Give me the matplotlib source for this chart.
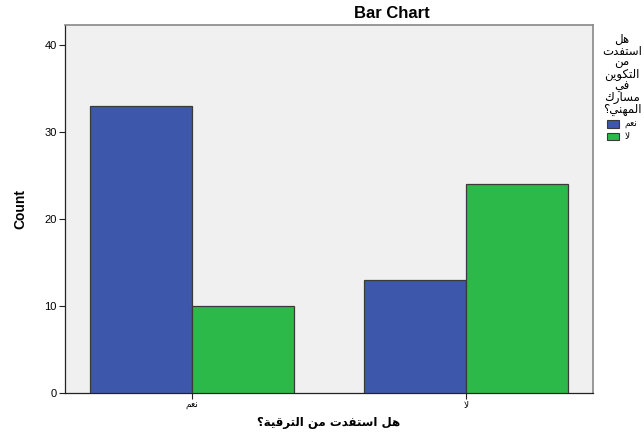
import matplotlib
matplotlib.use("Agg")
import matplotlib.pyplot as plt
import numpy as np
from matplotlib.patches import Patch

# ---------------- data ----------------
categories = ["نعم", "لا"]
series_names = ["نعم", "لا"]
yes_values = [33, 13]
no_values = [10, 24]
title = "Bar Chart"
xlabel = "هل استفدت من الترقية؟"
ylabel = "Count"
legend_title = "هل استفدت من التكوين في مسارك المهني؟"
yticks = [0, 10, 20, 30, 40]

# ---------------- minimal Arabic shaping ----------------
FORMS = {
    'ا': ('\uFE8D', '\uFE8E', None, None),
    'ب': ('\uFE8F', '\uFE90', '\uFE91', '\uFE92'),
    'ت': ('\uFE95', '\uFE96', '\uFE97', '\uFE98'),
    'ة': ('\uFE93', '\uFE94', None, None),
    'د': ('\uFEA9', '\uFEAA', None, None),
    'ر': ('\uFEAD', '\uFEAE', None, None),
    'س': ('\uFEB1', '\uFEB2', '\uFEB3', '\uFEB4'),
    'ع': ('\uFEC9', '\uFECA', '\uFECB', '\uFECC'),
    'ف': ('\uFED1', '\uFED2', '\uFED3', '\uFED4'),
    'ق': ('\uFED5', '\uFED6', '\uFED7', '\uFED8'),
    'ك': ('\uFED9', '\uFEDA', '\uFEDB', '\uFEDC'),
    'ل': ('\uFEDD', '\uFEDE', '\uFEDF', '\uFEE0'),
    'م': ('\uFEE1', '\uFEE2', '\uFEE3', '\uFEE4'),
    'ن': ('\uFEE5', '\uFEE6', '\uFEE7', '\uFEE8'),
    'ه': ('\uFEE9', '\uFEEA', '\uFEEB', '\uFEEC'),
    'و': ('\uFEED', '\uFEEE', None, None),
    'ي': ('\uFEF1', '\uFEF2', '\uFEF3', '\uFEF4'),
    'LA': ('\uFEFB', '\uFEFC', None, None),
}


def shape(text):
    chars = []
    i = 0
    while i < len(text):
        if text[i] == 'ل' and i + 1 < len(text) and text[i + 1] == 'ا':
            chars.append('LA')
            i += 2
        else:
            chars.append(text[i])
            i += 1
    out = []
    for k, c in enumerate(chars):
        if c not in FORMS:
            out.append(c)
            continue
        iso, fin, ini, med = FORMS[c]
        prev = chars[k - 1] if k > 0 else None
        nxt = chars[k + 1] if k + 1 < len(chars) else None
        pj = prev in FORMS and FORMS[prev][2] is not None
        nj = ini is not None and nxt in FORMS
        if pj and nj:
            out.append(med)
        elif pj:
            out.append(fin)
        elif nj:
            out.append(ini)
        else:
            out.append(iso)
    return ''.join(out)[::-1]


AR = ['DejaVu Sans']
LAT = ['Liberation Sans', 'DejaVu Sans']

# ---------------- figure ----------------
fig = plt.figure(figsize=(6.44, 4.34), dpi=100)
fig.patch.set_facecolor('white')
ax = fig.add_axes([65 / 644, 1 - 393 / 434, (593 - 65) / 644, (393 - 25) / 434])
ax.set_facecolor('#F0F0F0')

x = np.arange(len(categories))
w = 0.372
blue = '#3D57AA'
green = '#2DB84A'
edge = '#3A3A3A'
ax.bar(x - w / 2, yes_values, width=w, color=blue, edgecolor=edge, linewidth=0.9, zorder=3)
ax.bar(x + w / 2, no_values, width=w, color=green, edgecolor=edge, linewidth=0.9, zorder=3)

ax.set_xlim(-0.4635, 1.4635)
ax.set_ylim(0, 42.3)
ax.set_yticks(yticks)
ax.set_yticklabels([str(v) for v in yticks], family=LAT, fontsize=8)
ax.set_xticks(x)
ax.set_xticklabels([shape(c) for c in categories], family=AR, fontsize=6.5)
ax.tick_params(axis='both', direction='out', length=4, width=0.8, color='#222222', pad=2)

for s in ['left', 'bottom']:
    ax.spines[s].set_color('#222222')
    ax.spines[s].set_linewidth(0.9)
for s in ['top', 'right']:
    ax.spines[s].set_color('#888888')
    ax.spines[s].set_linewidth(1.2)

ax.set_ylabel(ylabel, family=LAT, fontsize=10, fontweight='bold', labelpad=12)
ax.set_xlabel(shape(xlabel), family=AR, fontsize=8.5, fontweight='bold', labelpad=4)

fig.text(392 / 644, 1 - 13 / 434, title, family=LAT, fontsize=12, fontweight='bold',
         ha='center', va='center')

# legend title (wrapped, centred) and legend entries
leg_title = '\n'.join(shape(wd) for wd in legend_title.split(' '))
fig.text(622 / 644, 1 - 33 / 434, leg_title, family=AR, fontsize=8.5,
         ha='center', va='top', multialignment='center', linespacing=0.86)

handles = [Patch(facecolor=blue, edgecolor=edge, linewidth=0.8),
           Patch(facecolor=green, edgecolor=edge, linewidth=0.8)]
leg = fig.legend(handles, [shape(s) for s in series_names],
                 loc='upper left', bbox_to_anchor=(607 / 644, 1 - 120 / 434),
                 frameon=False, fontsize=6.5,
                 handlelength=1.35, handleheight=0.9, handletextpad=0.6,
                 labelspacing=0.35, borderpad=0.0, borderaxespad=0.0)
for t in leg.get_texts():
    t.set_family(AR)

fig.savefig('out.png', dpi=100, facecolor='white')
